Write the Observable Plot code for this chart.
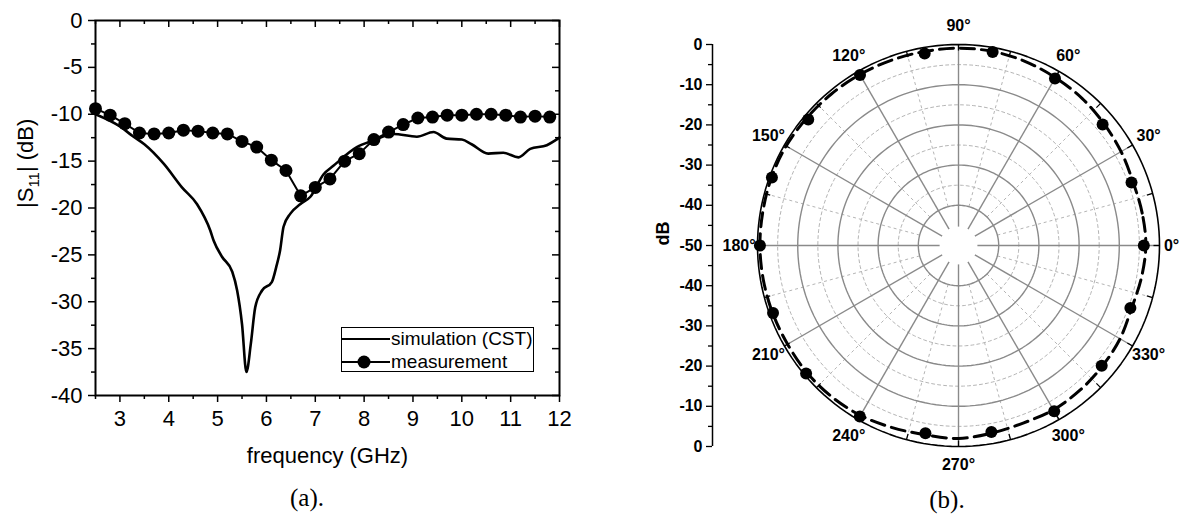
<!DOCTYPE html>
<html>
<head>
<meta charset="utf-8">
<script src="https://cdn.jsdelivr.net/npm/d3@7"></script>
<script src="https://cdn.jsdelivr.net/npm/@observablehq/plot@0.6"></script>
<style>
  body { margin: 0; background: #fff; }
  #wrap { position: relative; width: 1180px; height: 516px; overflow: hidden; background: #fff;
          font-family: "Liberation Sans", Arial, sans-serif; color: #000; }
  #left { position: absolute; left: 0; top: 0; }
  #right { position: absolute; left: 640px; top: 0; }
  .cap { position: absolute; font-family: "Liberation Serif", "Times New Roman", serif; font-size: 25px;
         transform: translate(-50%, -50%); white-space: nowrap; }
  #legend { position: absolute; left: 341px; top: 327px; width: 193px; height: 45px;
            border: 1px solid #000; background: #fff; box-sizing: border-box; }
  #legend .row { position: absolute; left: 0; height: 22px; display: flex; align-items: center;
                 font-size: 19px; white-space: nowrap; }
  #legend svg { display: block; margin-right: 1px; }
</style>
</head>
<body>
<div id="wrap">
  <div id="left"></div>
  <div id="right"></div>
  <div id="legend"></div>
  <div class="cap" style="left:307px; top:498px;">(a).</div>
  <div class="cap" style="left:947px; top:500px;">(b).</div>
</div>
<script>
// ---------- (a) |S11| vs frequency ----------
const freqMeas = [2.5, 2.8, 3.1, 3.4, 3.7, 4.0, 4.3, 4.6, 4.9, 5.2, 5.5, 5.8, 6.1, 6.4, 6.7, 7.0,
                  7.3, 7.6, 7.9, 8.2, 8.5, 8.8, 9.1, 9.4, 9.7, 10.0, 10.3, 10.6, 10.9, 11.2, 11.5, 11.8];
const s11Meas = [-9.4, -10.1, -11.0, -12.0, -12.1, -12.0, -11.7, -11.8, -12.0, -12.1, -12.9, -13.5,
                 -14.9, -16.0, -18.7, -17.8, -16.9, -15.0, -14.2, -12.7, -11.9, -11.1, -10.4, -10.3,
                 -10.1, -10.1, -10.0, -10.0, -10.1, -10.3, -10.2, -10.3];
const freqSim = [2.5, 3.0, 3.28, 3.5, 3.9, 4.27, 4.58, 4.85, 4.92, 5.09, 5.3, 5.4, 5.5, 5.59, 5.68,
                 5.77, 5.91, 6.11, 6.2, 6.28, 6.35, 6.49, 6.69, 6.9, 7.17, 7.37, 7.85, 8.19, 8.6,
                 9.08, 9.42, 9.69, 10.0, 10.2, 10.54, 10.85, 11.16, 11.4, 11.74, 12.0];
const s11Sim = [-10.0, -11.3, -12.4, -13.2, -15.3, -17.8, -19.6, -22.4, -23.5, -25.2, -26.8, -28.8,
                -32.4, -37.5, -34.5, -30.6, -28.8, -27.9, -26.3, -24.5, -22.0, -20.6, -19.6, -18.8,
                -16.4, -15.5, -13.5, -12.8, -12.1, -12.4, -11.9, -12.6, -12.7, -13.2, -14.2, -14.1,
                -14.6, -13.7, -13.3, -12.5];
const xMajor = [3, 4, 5, 6, 7, 8, 9, 10, 11, 12];
const xMinor = [2.5, 3.5, 4.5, 5.5, 6.5, 7.5, 8.5, 9.5, 10.5, 11.5];
const yMajor = [0, -5, -10, -15, -20, -25, -30, -35, -40];
const yMinor = [-2.5, -7.5, -12.5, -17.5, -22.5, -27.5, -32.5, -37.5];
const legendLabels = ["simulation (CST)", "measurement"];

// ---------- (b) radiation pattern ----------
const angMeas = [0, 20, 40, 60, 80, 100, 120, 140, 160, 180, 200, 220, 240, 260, 280, 300, 320, 340];
const dbMeas  = [-3.9, -4.2, -3.2, -2.0, -1.1, -1.5, -1.0, -1.2, -0.6, -0.6, -0.9, -0.5, -0.9,
                 -2.6, -2.9, -2.4, -3.5, -4.5];
const angSim = [0, 10, 20, 30, 40, 50, 60, 70, 80, 90, 100, 110, 120, 130, 140, 150, 160, 170, 180,
                190, 200, 210, 220, 230, 240, 250, 260, 270, 280, 290, 300, 310, 320, 330, 340, 350];
const dbSim  = [-3.4, -3.6, -3.8, -3.3, -2.8, -2.2, -1.8, -1.3, -1.0, -0.9, -1.0, -1.0, -0.9, -0.8,
                -0.7, -0.5, -0.5, -0.6, -0.6, -0.7, -0.8, -0.9, -0.8, -0.9, -1.2, -1.8, -2.2, -2.0,
                -2.6, -3.0, -2.8, -3.0, -3.3, -3.6, -4.2, -3.8];
const ringsSolid = [-10, -20, -30, -40];
const ringsDashed = [-5, -15, -25, -35];
const spokesSolid = [0, 30, 60, 90, 120, 150, 180, 210, 240, 270, 300, 330];
const spokesDashed = [15, 45, 75, 105, 135, 165, 195, 225, 255, 285, 315, 345];
const rAxisTicks = [-50, -40, -30, -20, -10, 0, 10, 20, 30, 40, 50];
const rAxisMinor = [-45, -35, -25, -15, -5, 5, 15, 25, 35, 45];

// ---------- chart (a) ----------
const meas = freqMeas.map((f, i) => ({f, v: s11Meas[i]}));
const sim = freqSim.map((f, i) => ({f, v: s11Sim[i]}));
const FW = 600 - 95 - 41, FH = 470 - 20 - 75;

const left = Plot.plot({
  width: 600, height: 470,
  marginLeft: 95, marginRight: 41, marginTop: 20, marginBottom: 75,
  style: {fontFamily: "'Liberation Sans', Arial, sans-serif", fontSize: "22px", color: "#000", background: "transparent", overflow: "visible"},
  x: {domain: [2.5, 12]},
  y: {domain: [-40, 0]},
  marks: [
    Plot.axisX({ticks: xMinor, tickSize: 4, tickFormat: () => "", label: null, strokeWidth: 1.5}),
    Plot.axisX({ticks: xMajor, tickSize: 7, tickPadding: 8, tickFormat: d => String(d), label: null, strokeWidth: 1.5, fontSize: 22}),
    Plot.axisY({ticks: yMinor, tickSize: 4, tickFormat: () => "", label: null, strokeWidth: 1.5}),
    Plot.axisY({ticks: yMajor, tickSize: 7, tickPadding: 6, tickFormat: d => String(d), label: null, strokeWidth: 1.5, fontSize: 22}),
    Plot.tickX(xMajor, {x: d => d, insetBottom: FH - 7, stroke: "#000", strokeWidth: 1.5}),
    Plot.tickX(xMinor, {x: d => d, insetBottom: FH - 4, stroke: "#000", strokeWidth: 1.5}),
    Plot.tickY(yMajor, {y: d => d, insetLeft: FW - 7, stroke: "#000", strokeWidth: 1.5}),
    Plot.tickY(yMinor, {y: d => d, insetLeft: FW - 4, stroke: "#000", strokeWidth: 1.5}),
    Plot.line(sim, {x: "f", y: "v", curve: "monotone-x", stroke: "#000", strokeWidth: 2.6}),
    Plot.line(meas, {x: "f", y: "v", stroke: "#000", strokeWidth: 2}),
    Plot.dot(meas, {x: "f", y: "v", r: 6.5, fill: "#000", stroke: "none"}),
    Plot.frame({stroke: "#000", strokeWidth: 2}),
    Plot.text(["frequency (GHz)"], {frameAnchor: "bottom", dy: 60, lineAnchor: "middle", fontSize: 22, fill: "#000"}),
    Plot.text(["|S11| (dB)"], {frameAnchor: "left", dx: -70, rotate: -90, lineAnchor: "middle", fontSize: 22, fill: "#000"})
  ]
});
document.getElementById("left").appendChild(left);

// subscript in y label
d3.select(left).selectAll("text").filter(function() { return this.textContent === "|S11| (dB)"; })
  .each(function() {
    const t = d3.select(this);
    t.text(null);
    t.append("tspan").text("|S");
    t.append("tspan").attr("dy", 6).attr("font-size", 15).text("11");
    t.append("tspan").attr("dy", -6).text("| (dB)");
  });

// legend (HTML overlay inside the frame)
const lg = document.getElementById("legend");
legendLabels.forEach((lab, i) => {
  const row = document.createElement("div");
  row.className = "row";
  row.style.top = (i === 0 ? 0 : 23) + "px";
  const sw = d3.create("svg").attr("width", 48).attr("height", 22);
  sw.append("line").attr("x1", 0).attr("x2", 48).attr("y1", 11).attr("y2", 11)
    .attr("stroke", "#000").attr("stroke-width", 2);
  if (i === 1) sw.append("circle").attr("cx", 22).attr("cy", 11).attr("r", 6.5).attr("fill", "#000");
  row.appendChild(sw.node());
  const sp = document.createElement("span");
  sp.textContent = lab;
  row.appendChild(sp);
  lg.appendChild(row);
});

// ---------- chart (b) ----------
const rad = Math.PI / 180;
const pol = (a, db) => ({x: (db + 50) * Math.cos(a * rad), y: (db + 50) * Math.sin(a * rad)});
const circlePts = (levels) => levels.flatMap(l => d3.range(0, 361, 2).map(a => ({...pol(a, l), l})));
const measPts = angMeas.map((a, i) => pol(a, dbMeas[i]));
const simPts = angSim.map((a, i) => pol(a, dbSim[i]));
const holeDb = -45.3;
const tickAngles = d3.range(0, 360, 15);
const labelOff = a => (a === 0 ? 3.0 : 4.6);

const right = Plot.plot({
  width: 540, height: 490,
  marginLeft: 72, marginRight: 21, marginTop: 44, marginBottom: 44,
  style: {fontFamily: "'Liberation Sans', Arial, sans-serif", fontSize: "16px", fontWeight: "bold", color: "#000", background: "transparent"},
  x: {domain: [-61.2, 50], axis: null},
  y: {domain: [-50, 50]},
  marks: [
    // grid
    Plot.line(circlePts(ringsDashed), {x: "x", y: "y", z: "l", stroke: "#b5b5b5", strokeWidth: 1, strokeDasharray: "3,3"}),
    Plot.link(spokesDashed, {x1: a => pol(a, -40).x, y1: a => pol(a, -40).y, x2: a => pol(a, 0).x, y2: a => pol(a, 0).y,
      stroke: "#b5b5b5", strokeWidth: 1, strokeDasharray: "3,3"}),
    Plot.line(circlePts(ringsSolid), {x: "x", y: "y", z: "l", stroke: "#8a8a8a", strokeWidth: 1.4}),
    Plot.link(spokesSolid, {x1: a => pol(a, holeDb).x, y1: a => pol(a, holeDb).y, x2: a => pol(a, 0).x, y2: a => pol(a, 0).y,
      stroke: "#8a8a8a", strokeWidth: 1.4}),
    // outer circle and ticks
    Plot.line(circlePts([0]), {x: "x", y: "y", stroke: "#000", strokeWidth: 1.6}),
    Plot.link(tickAngles, {x1: a => pol(a, -1.5).x, y1: a => pol(a, -1.5).y, x2: a => pol(a, 0).x, y2: a => pol(a, 0).y,
      stroke: "#000", strokeWidth: 1.3}),
    // radial dB axis
    Plot.ruleX([-61.2], {y1: -50, y2: 50, stroke: "#000", strokeWidth: 1.5}),
    Plot.axisY({ticks: rAxisMinor, tickSize: 4, tickFormat: () => "", label: null, strokeWidth: 1.3}),
    Plot.axisY({ticks: rAxisTicks, tickSize: 6, tickPadding: 4, tickFormat: d => String(Math.abs(d) - 50),
      label: null, fontSize: 16, fontWeight: "bold", strokeWidth: 1.3}),
    Plot.text(["dB"], {frameAnchor: "left", dx: -49, rotate: -90, lineAnchor: "middle", fontSize: 18, fontWeight: "bold", fill: "#000"}),
    // angle labels
    Plot.text(spokesSolid, {x: a => pol(a, labelOff(a)).x, y: a => pol(a, labelOff(a)).y, text: a => a + "°",
      textAnchor: "middle", lineAnchor: "middle", fontSize: 16, fontWeight: "bold", fill: "#000"}),
    // data
    Plot.line(simPts, {x: "x", y: "y", curve: "catmull-rom-closed", stroke: "#000", strokeWidth: 3, strokeDasharray: "14,7"}),
    Plot.dot(measPts, {x: "x", y: "y", r: 6, fill: "#000", stroke: "none"})
  ]
});
document.getElementById("right").appendChild(right);
</script>
</body>
</html>
